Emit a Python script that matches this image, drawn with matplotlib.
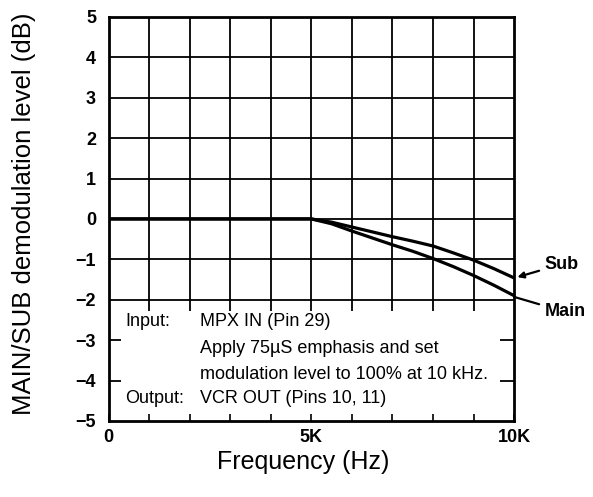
import numpy as np
import matplotlib
matplotlib.use('Agg')
import matplotlib.pyplot as plt

plt.rcParams['font.family'] = ['Liberation Sans', 'DejaVu Sans']

# data (frequency in Hz, level in dB)
freq = [0, 1000, 2000, 3000, 4000, 5000, 5500, 6000, 6500, 7000, 7500, 8000, 8500, 9000, 9500, 10000]
sub = [0, 0, 0, 0, 0, 0, -0.08, -0.20, -0.32, -0.44, -0.55, -0.67, -0.84, -1.02, -1.23, -1.46]
main = [0, 0, 0, 0, 0, 0, -0.12, -0.30, -0.47, -0.64, -0.80, -0.98, -1.18, -1.40, -1.64, -1.90]

xticks = [0, 5000, 10000]
xticklabels = ['0', '5K', '10K']
yticks = [5, 4, 3, 2, 1, 0, -1, -2, -3, -4, -5]
yticklabels = ['5', '4', '3', '2', '1', '0', '\u22121', '\u22122', '\u22123', '\u22124', '\u22125']
notes = [('Input:', 'MPX IN (Pin 29)'),
         ('', 'Apply 75\u00b5S emphasis and set'),
         ('', 'modulation level to 100% at 10 kHz.'),
         ('Output:', 'VCR OUT (Pins 10, 11)')]

fig = plt.figure(figsize=(5.93, 4.97), dpi=100)
ax = fig.add_axes([0.183, 0.153, 0.684, 0.813])
ax.set_xlim(0, 10000)
ax.set_ylim(-5, 5)

lw_grid = 1.3
box_top = -2.27
ax.vlines(np.arange(1000, 10000, 1000), box_top, 5, color='black', lw=lw_grid, zorder=1)
ax.hlines(np.arange(-2, 5, 1), 0, 10000, color='black', lw=lw_grid, zorder=1)
# stubs along the border of the note area
for y in (-3, -4):
    ax.hlines(y, 0, 300, color='black', lw=lw_grid)
    ax.hlines(y, 9650, 10000, color='black', lw=lw_grid)

ax.plot(freq, sub, color='black', lw=2.3, zorder=3)
ax.plot(freq, main, color='black', lw=2.3, zorder=3)

ax.set_xticks(np.arange(0, 10001, 1000))
ax.set_xticklabels([xticklabels[xticks.index(t)] if t in xticks else ''
                    for t in range(0, 10001, 1000)],
                   fontsize=13, fontweight='bold')
ax.set_yticks(yticks)
ax.set_yticklabels(yticklabels, fontsize=13, fontweight='bold')
ax.tick_params(axis='x', direction='in', length=5, width=1.2, pad=6)
ax.tick_params(axis='y', length=0, pad=9)
for s in ax.spines.values():
    s.set_linewidth(2)

ys = [-2.55, -3.2, -3.85, -4.45]
for (lab, txt), y in zip(notes, ys):
    if lab:
        ax.text(420, y, lab, fontsize=13, va='center', ha='left')
    ax.text(2250, y, txt, fontsize=13, va='center', ha='left')

ax.annotate('Sub', xy=(10080, -1.44), xytext=(10750, -1.12), fontsize=13,
            fontweight='bold', va='center', ha='left', annotation_clip=False,
            arrowprops=dict(arrowstyle='-|>', color='black', lw=1.6,
                            mutation_scale=9, shrinkA=2, shrinkB=0))
ax.annotate('Main', xy=(10000, -1.93), xytext=(10750, -2.3), fontsize=13,
            fontweight='bold', va='center', ha='left', annotation_clip=False,
            arrowprops=dict(arrowstyle='-', color='black', lw=1.6,
                            shrinkA=2, shrinkB=0))

fig.text(24 / 593, 1 - 214 / 497, 'MAIN/SUB demodulation level (dB)',
         rotation=90, fontsize=18.5, ha='center', va='center')
fig.text(303 / 593, 1 - 462 / 497, 'Frequency (Hz)', fontsize=18,
         ha='center', va='center')

fig.savefig('out.png', dpi=100)
